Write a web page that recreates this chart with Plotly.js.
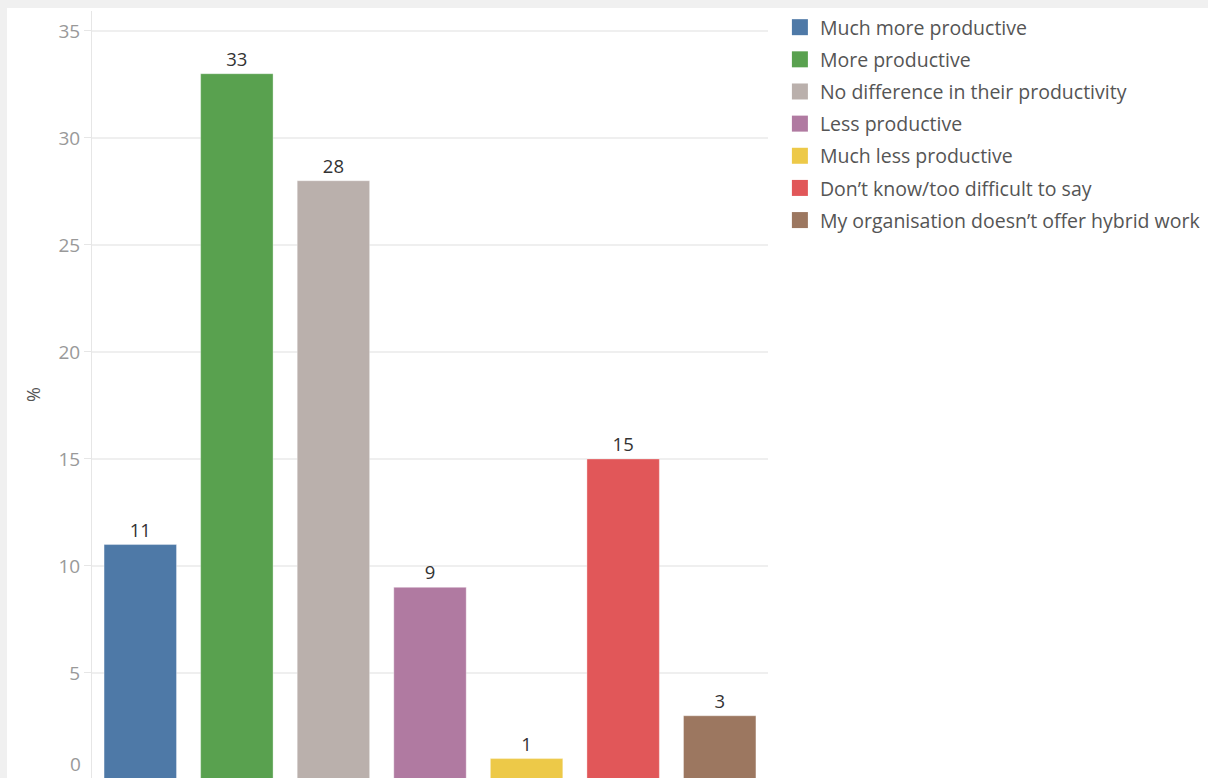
<!DOCTYPE html>
<html><head><meta charset="utf-8">
<script src="https://cdn.plot.ly/plotly-3.0.1.min.js"></script>
<style>
html,body{margin:0;padding:0;background:#f0f0f0;width:1208px;height:778px;overflow:hidden}
#chart{position:absolute;left:7px;top:8px;width:1201px;height:770px;background:#fff}
</style></head>
<body><div id="chart"></div>
<script>
const categories = ["Much more productive","More productive","No difference in their productivity","Less productive","Much less productive","Don\u2019t know/too difficult to say","My organisation doesn\u2019t offer hybrid work"];
const values = [11,33,28,9,1,15,3];
const colors = ["#4e79a7","#59a14f","#bab0ac","#b07aa1","#edc948","#e15759","#9c7760"];
const tickVals = [5,10,15,20,25,30,35];

const FONT = "'Open Sans', sans-serif";
const traces = [];
categories.forEach((c,i)=>{
  traces.push({type:"bar", x:[c], y:[values[i]], name:c, text:[String(values[i])],
    textposition:"outside", cliponaxis:false, showlegend:false,
    textfont:{family:FONT,size:18.5,color:"#333"},
    marker:{color:colors[i], line:{color:"rgba(255,255,255,0.35)",width:1}},
    hoverinfo:"skip"});
});
categories.forEach((c,i)=>{
  traces.push({type:"scatter", mode:"markers", x:[null], y:[null], name:c, legendgroup:"g"+i,
    marker:{symbol:"square", size:16, color:colors[i]}, showlegend:true});
});

const layout = {
  width:1201, height:770,
  margin:{l:85, r:440, t:2, b:0, pad:0},
  paper_bgcolor:"#fff", plot_bgcolor:"#fff",
  bargap:0.25,
  showlegend:true,
  legend:{x:1.0176, xanchor:"left", y:1.004, yanchor:"top", tracegroupgap:3.8,
    font:{family:FONT,size:19.5,color:"#555"}, itemsizing:"trace", bgcolor:"rgba(0,0,0,0)"},
  xaxis:{categoryorder:"array", categoryarray:categories, showticklabels:false, ticks:"",
    showgrid:false, zeroline:false, showline:false, fixedrange:true},
  yaxis:{range:[0.093,35.93], tickvals:tickVals, ticks:"outside", ticklen:7, tickcolor:"#e6e6e6",
    showgrid:true, gridcolor:"#efefef", gridwidth:1.5, zeroline:false, showline:true, linecolor:"#e6e6e6",
    tickfont:{family:FONT,size:19,color:"#999"},
    title:{text:"%", font:{family:FONT,size:18,color:"#555"}, standoff:13}},
  annotations:[{xref:"paper", yref:"paper", x:0, y:0, xanchor:"right", yanchor:"bottom",
    xshift:-9, yshift:-1, text:"0", showarrow:false, font:{family:FONT,size:19,color:"#999"}}]
};
Plotly.newPlot("chart", traces, layout, {displayModeBar:false, staticPlot:true});
</script></body></html>
